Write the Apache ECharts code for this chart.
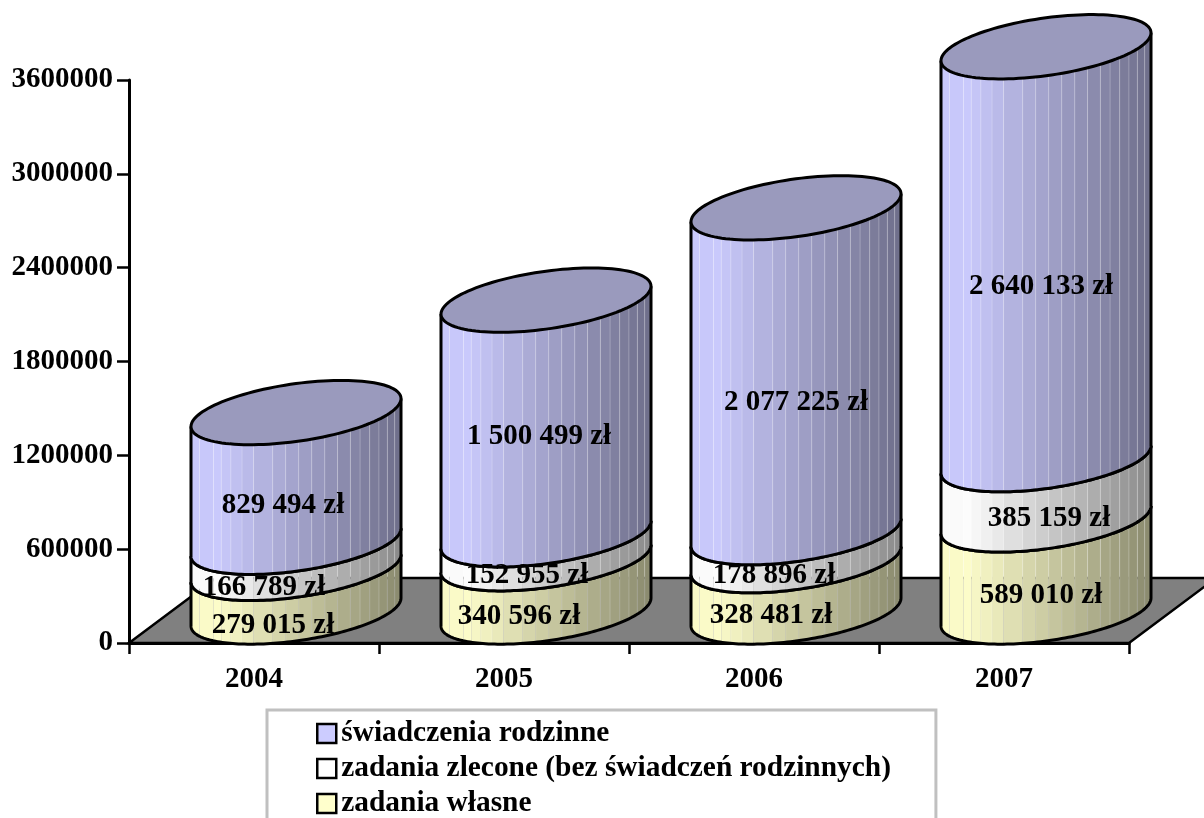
<!DOCTYPE html>
<html>
<head>
<meta charset="utf-8">
<style>
html, body { margin: 0; padding: 0; background: #fff; overflow: hidden; }
#chart { width: 1204px; height: 818px; }
</style>
<script src="https://cdn.jsdelivr.net/npm/echarts@6/dist/echarts.min.js"></script>
</head>
<body>
<div id="chart"></div>
<script>
const years = ['2004', '2005', '2006', '2007']
const rodzinne = [829494, 1500499, 2077225, 2640133]
const zlecone = [166789, 152955, 178896, 385159]
const wlasne = [279015, 340596, 328481, 589010]

const FONT = '"Liberation Serif", "Times New Roman", serif'
// floor depth in px, cylinders stand in the middle of it
const DEPTH_X = 87
const DEPTH_Y = 65
const STRIPES = [0, .04, .107, .144, .19, .243, .298, .389, .451, .513, .575, .637, .698, .759, .805, .851, .895, .935, .97, 1]

// hand-placed labels in the original, [dx, dy] from the middle of the segment
const shiftWlasne = [[-23, 35], [-27, 31], [-25, 29], [-5, 30]]
const shiftZlecone = [[-32, 32], [-19, 29], [-22, 29], [3, 29]]
const shiftRodzinne = [[-13, 28], [-7, 19], [0, 32], [-5, 33]]

const money = v => String(v).replace(/\B(?=(\d{3})+$)/g, ' ') + ' zł'

const shade = (rgb, k) => 'rgb(' + rgb.map(c => Math.round(c * k)).join(',') + ')'

const renderCylinder = (rgb, shifts, withTop) => (params, api) => {
  const i = api.value(0)
  const bottom = api.coord([i, api.value(1)])
  const top = api.coord([i, api.value(2)])
  const a = api.size([1, 0])[0] * 0.42
  const b = a * 0.276
  const skew = a * 0.133
  const cx = bottom[0] + 42
  const yB = bottom[1] - 31
  const yT = top[1] - 31

  const point = (t, y0) => [cx + a * Math.cos(t), y0 - skew * Math.cos(t) + b * Math.sin(t)]
  // f runs 0..1 from left to right across the front of the ellipse
  const angle = f => Math.acos(2 * f - 1)

  const arc = (f0, f1, y0) => {
    const t0 = angle(f0)
    const t1 = angle(f1)
    const pts = []
    const n = Math.max(3, Math.ceil(Math.abs(t1 - t0) * 30))
    for (let k = 0; k <= n; k++) pts.push(point(t0 + (t1 - t0) * k / n, y0))
    return pts
  }

  const children = []
  for (let s = 0; s < STRIPES.length - 1; s++) {
    const f0 = STRIPES[s]
    const f1 = STRIPES[s + 1]
    const mid = (f0 + f1) / 2
    const k = mid < 0.1 ? 0.98 : 1 - (mid - 0.1) * 0.51
    children.push({
      type: 'polygon',
      shape: { points: arc(f0, f1, yT).concat(arc(f0, f1, yB).reverse()) },
      style: { fill: shade(rgb, k) }
    })
    if (s > 0) {
      children.push({
        type: 'polyline',
        shape: { points: [point(angle(f0), yT), point(angle(f0), yB)] },
        style: { fill: null, stroke: 'rgba(255,255,255,0.22)', lineWidth: 1 }
      })
    }
  }

  // outline: sides and lower arc, the upper arc belongs to the next segment
  children.push({
    type: 'polyline',
    shape: { points: [point(Math.PI, yT)].concat(arc(0, 1, yB), [point(0, yT)]) },
    style: { fill: null, stroke: '#000', lineWidth: 3, lineJoin: 'round' }
  })

  if (withTop) {
    const pts = []
    for (let k = 0; k < 120; k++) pts.push(point(k / 120 * Math.PI * 2, yT))
    children.push({
      type: 'polygon',
      shape: { points: pts },
      style: { fill: '#9a9abd', stroke: '#000', lineWidth: 3 }
    })
  } else {
    children.push({
      type: 'polyline',
      shape: { points: arc(0, 1, yT) },
      style: { fill: null, stroke: '#000', lineWidth: 3 }
    })
  }

  children.push({
    type: 'text',
    z2: 100,
    style: {
      text: money(api.value(2) - api.value(1)),
      x: cx + shifts[i][0],
      y: (yB + yT) / 2 + shifts[i][1],
      align: 'center',
      verticalAlign: 'middle',
      font: 'bold 29px ' + FONT,
      fill: '#000'
    }
  })
  return { type: 'group', children }
}

const renderFloor = params => {
  const g = params.coordSys
  const y0 = g.y + g.height
  return {
    type: 'polygon',
    shape: {
      points: [
        [g.x, y0],
        [g.x + g.width, y0],
        [g.x + g.width + DEPTH_X, y0 - DEPTH_Y],
        [g.x + DEPTH_X, y0 - DEPTH_Y]
      ]
    },
    style: { fill: '#808080', stroke: '#000', lineWidth: 2.5 }
  }
}

// [category, from, to]
const stackRows = (values, below) => values.map((v, i) => [i, below[i], below[i] + v])
const belowZlecone = wlasne
const belowRodzinne = wlasne.map((v, i) => v + zlecone[i])

const chart = echarts.init(document.getElementById('chart'))
chart.setOption({
  animation: false,
  grid: { left: 129, right: 75, top: 80, bottom: 175 },
  xAxis: {
    type: 'category',
    data: years,
    axisLine: { lineStyle: { color: '#000', width: 3 } },
    axisTick: { show: true, interval: 0, alignWithLabel: false, length: 11, lineStyle: { color: '#000', width: 2.5 } },
    axisLabel: { color: '#000', fontFamily: FONT, fontWeight: 'bold', fontSize: 29, margin: 22 }
  },
  yAxis: {
    type: 'value',
    min: 0,
    max: 3600000,
    interval: 600000,
    splitLine: { show: false },
    axisLine: { show: true, lineStyle: { color: '#000', width: 3 } },
    axisTick: { show: true, length: 12, lineStyle: { color: '#000', width: 2.5 } },
    axisLabel: {
      color: '#000',
      fontFamily: FONT,
      fontWeight: 'bold',
      fontSize: 29,
      margin: 16,
      padding: [4, 0, 0, 0],
      formatter: v => String(v)
    }
  },
  legend: {
    left: 267,
    top: 710,
    height: 400,
    orient: 'vertical',
    align: 'left',
    icon: 'rect',
    itemWidth: 19,
    itemHeight: 19,
    itemGap: 6,
    selectedMode: false,
    padding: [9, 45, 40, 49],
    borderColor: '#c0c0c0',
    borderWidth: 3,
    textStyle: { color: '#000', fontFamily: FONT, fontWeight: 'bold', fontSize: 29.4 },
    data: [
      { name: 'świadczenia rodzinne', itemStyle: { color: '#ccccff', borderColor: '#000', borderWidth: 2.5 } },
      { name: 'zadania zlecone (bez świadczeń rodzinnych)', itemStyle: { color: '#ffffff', borderColor: '#000', borderWidth: 2.5 } },
      { name: 'zadania własne', itemStyle: { color: '#ffffcc', borderColor: '#000', borderWidth: 2.5 } }
    ]
  },
  series: [
    {
      type: 'custom',
      name: 'floor',
      z: 1,
      silent: true,
      data: [[0, 0, 0]],
      renderItem: renderFloor
    },
    {
      type: 'custom',
      name: 'zadania własne',
      z: 2,
      itemStyle: { color: '#ffffcc' },
      data: stackRows(wlasne, [0, 0, 0, 0]),
      encode: { x: 0, y: 2 },
      renderItem: renderCylinder([255, 255, 204], shiftWlasne, false)
    },
    {
      type: 'custom',
      name: 'zadania zlecone (bez świadczeń rodzinnych)',
      z: 2,
      itemStyle: { color: '#ffffff' },
      data: stackRows(zlecone, belowZlecone),
      encode: { x: 0, y: 2 },
      renderItem: renderCylinder([255, 255, 255], shiftZlecone, false)
    },
    {
      type: 'custom',
      name: 'świadczenia rodzinne',
      z: 2,
      itemStyle: { color: '#ccccff' },
      data: stackRows(rodzinne, belowRodzinne),
      encode: { x: 0, y: 2 },
      renderItem: renderCylinder([204, 204, 255], shiftRodzinne, true)
    }
  ]
})
</script>
</body>
</html>
